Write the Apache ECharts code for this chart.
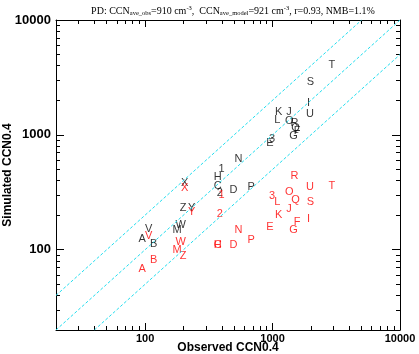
<!DOCTYPE html>
<html>
<head>
<meta charset="utf-8">
<script src="https://cdn.jsdelivr.net/npm/echarts@6/dist/echarts.min.js"></script>
<style>
  html, body { margin: 0; padding: 0; background: #fff; }
  #main { width: 419px; height: 354px; }
</style>
</head>
<body>
<div id="main"></div>
<script>
// site labels, observed CCN and the two simulated sets (black / red)
var sites = ['A', 'B', 'C', 'D', 'E', 'F', 'G', 'H', 'I', 'J', 'K', 'L', 'M', 'N', 'O',
    'P', 'Q', 'R', 'S', 'T', 'U', 'V', 'W', 'X', 'Y', 'Z', '1', '2', '3'];
var observed = [95, 117, 372, 494, 955, 1560, 1460, 372, 1915, 1345, 1115, 1090, 178, 540, 1355,
    679, 1518, 1485, 1983, 2920, 1968, 106.5, 190, 204, 232, 199, 398, 386, 992];
var simBlack = [125, 112, 360, 332, 847, 1083, 980, 434, 1909, 1575, 1575, 1350, 149, 615, 1324,
    351, 1150, 1271, 2862, 4061, 1514, 151, 165, 385, 233, 233, 503, 311, 918];
var simRed = [68, 81, 110, 110, 157, 176, 149, 110, 185, 226, 199, 263, 100, 149, 321,
    122, 272, 443, 258, 357, 355, 131, 117, 344, 215, 89, 301, 206, 295];
var ratios = [0.5, 1, 2];
var axisMin = 20, axisMax = 10000;

var myChart = echarts.init(document.getElementById('main'), null, {renderer: 'canvas'});

var majorTicks = [100, 1000, 10000];
var minorTicks = [];
for (var d = 10; d < axisMax; d *= 10) {
    for (var k = 2; k <= 9; k++) {
        if (d * k >= axisMin) minorTicks.push(d * k);
    }
}

function pts(sim) {
    return sites.map(function (s, i) {
        return {name: s, value: [observed[i], sim[i]]};
    });
}

function ratioLine(r) {
    var x0 = Math.max(axisMin, axisMin / r);
    var x1 = Math.min(axisMax, axisMax / r);
    return [[x0, x0 * r], [x1, x1 * r]];
}

// one log axis; major ones carry the line (and labels on bottom/left), minor ones only short ticks
function axis(pos, major, showLabel, name) {
    var vertical = (pos === 'left' || pos === 'right');
    var a = {
        type: 'log',
        logBase: 10,
        min: axisMin,
        max: axisMax,
        position: pos,
        axisLine: {show: major, lineStyle: {color: '#000', width: 1}},
        axisTick: {
            show: true,
            inside: true,
            length: major ? (vertical ? 8 : 7) : 4,
            customValues: major ? majorTicks : minorTicks,
            lineStyle: {color: '#000', width: 1}
        },
        axisLabel: {show: false},
        splitLine: {show: false},
        minorTick: {show: false}
    };
    if (showLabel) {
        a.axisLabel = {
            show: true,
            customValues: majorTicks,
            formatter: function (v) { return String(Math.round(v)); },
            fontFamily: 'Liberation Sans',
            fontWeight: 'bold',
            fontSize: vertical ? 13 : 11,
            color: '#000',
            margin: vertical ? 5 : 3
        };
        a.name = name;
        a.nameLocation = 'middle';
        a.nameMoveOverlap = false;
        a.nameGap = vertical ? 42 : 12;
        a.nameTextStyle = {fontFamily: 'Liberation Sans', fontWeight: 'bold', fontSize: 12, color: '#000'};
    }
    return a;
}

var option = {
    animation: false,
    backgroundColor: '#fff',
    title: {
        text: '{a|PD: CCN}{b|ave_obs}{a|=910 cm}{c|-3}{a|,  CCN}{b|ave_model}{a|=921 cm}{c|-3}{a|, r=0.93, NMB=1.1%}',
        left: 228,
        top: 0,
        textAlign: 'center',
        textStyle: {
            fontFamily: 'Liberation Serif',
            fontSize: 10,
            fontWeight: 'normal',
            color: '#000',
            rich: {
                a: {fontFamily: 'Liberation Serif', fontSize: 10, lineHeight: 12, color: '#000'},
                b: {fontFamily: 'Liberation Serif', fontSize: 6.5, lineHeight: 12, verticalAlign: 'bottom', color: '#000'},
                c: {fontFamily: 'Liberation Serif', fontSize: 6.5, lineHeight: 12, verticalAlign: 'top', color: '#000'}
            }
        }
    },
    grid: {left: 56, right: 19, top: 20, bottom: 24, containLabel: false, outerBoundsMode: 'none'},
    xAxis: [
        axis('bottom', true, true, 'Observed CCN0.4'),
        axis('bottom', false, false),
        axis('top', true, false),
        axis('top', false, false)
    ],
    yAxis: [
        axis('left', true, true, 'Simulated CCN0.4'),
        axis('left', false, false),
        axis('right', true, false),
        axis('right', false, false)
    ],
    series: ratios.map(function (r) {
        return {
            type: 'line',
            data: ratioLine(r),
            symbol: 'none',
            silent: true,
            lineStyle: {color: '#22ddee', width: 1, type: [3, 2]}
        };
    }).concat([
        {
            type: 'scatter',
            data: pts(simBlack),
            symbolSize: 1,
            itemStyle: {color: 'transparent'},
            label: {
                show: true, position: 'inside', formatter: '{b}',
                fontFamily: 'Liberation Sans', fontSize: 11, color: '#000'
            }
        },
        {
            type: 'scatter',
            data: pts(simRed),
            symbolSize: 1,
            itemStyle: {color: 'transparent'},
            label: {
                show: true, position: 'inside', formatter: '{b}',
                fontFamily: 'Liberation Sans', fontSize: 11, color: '#ff0000'
            }
        }
    ])
};

myChart.setOption(option);
</script>
</body>
</html>
